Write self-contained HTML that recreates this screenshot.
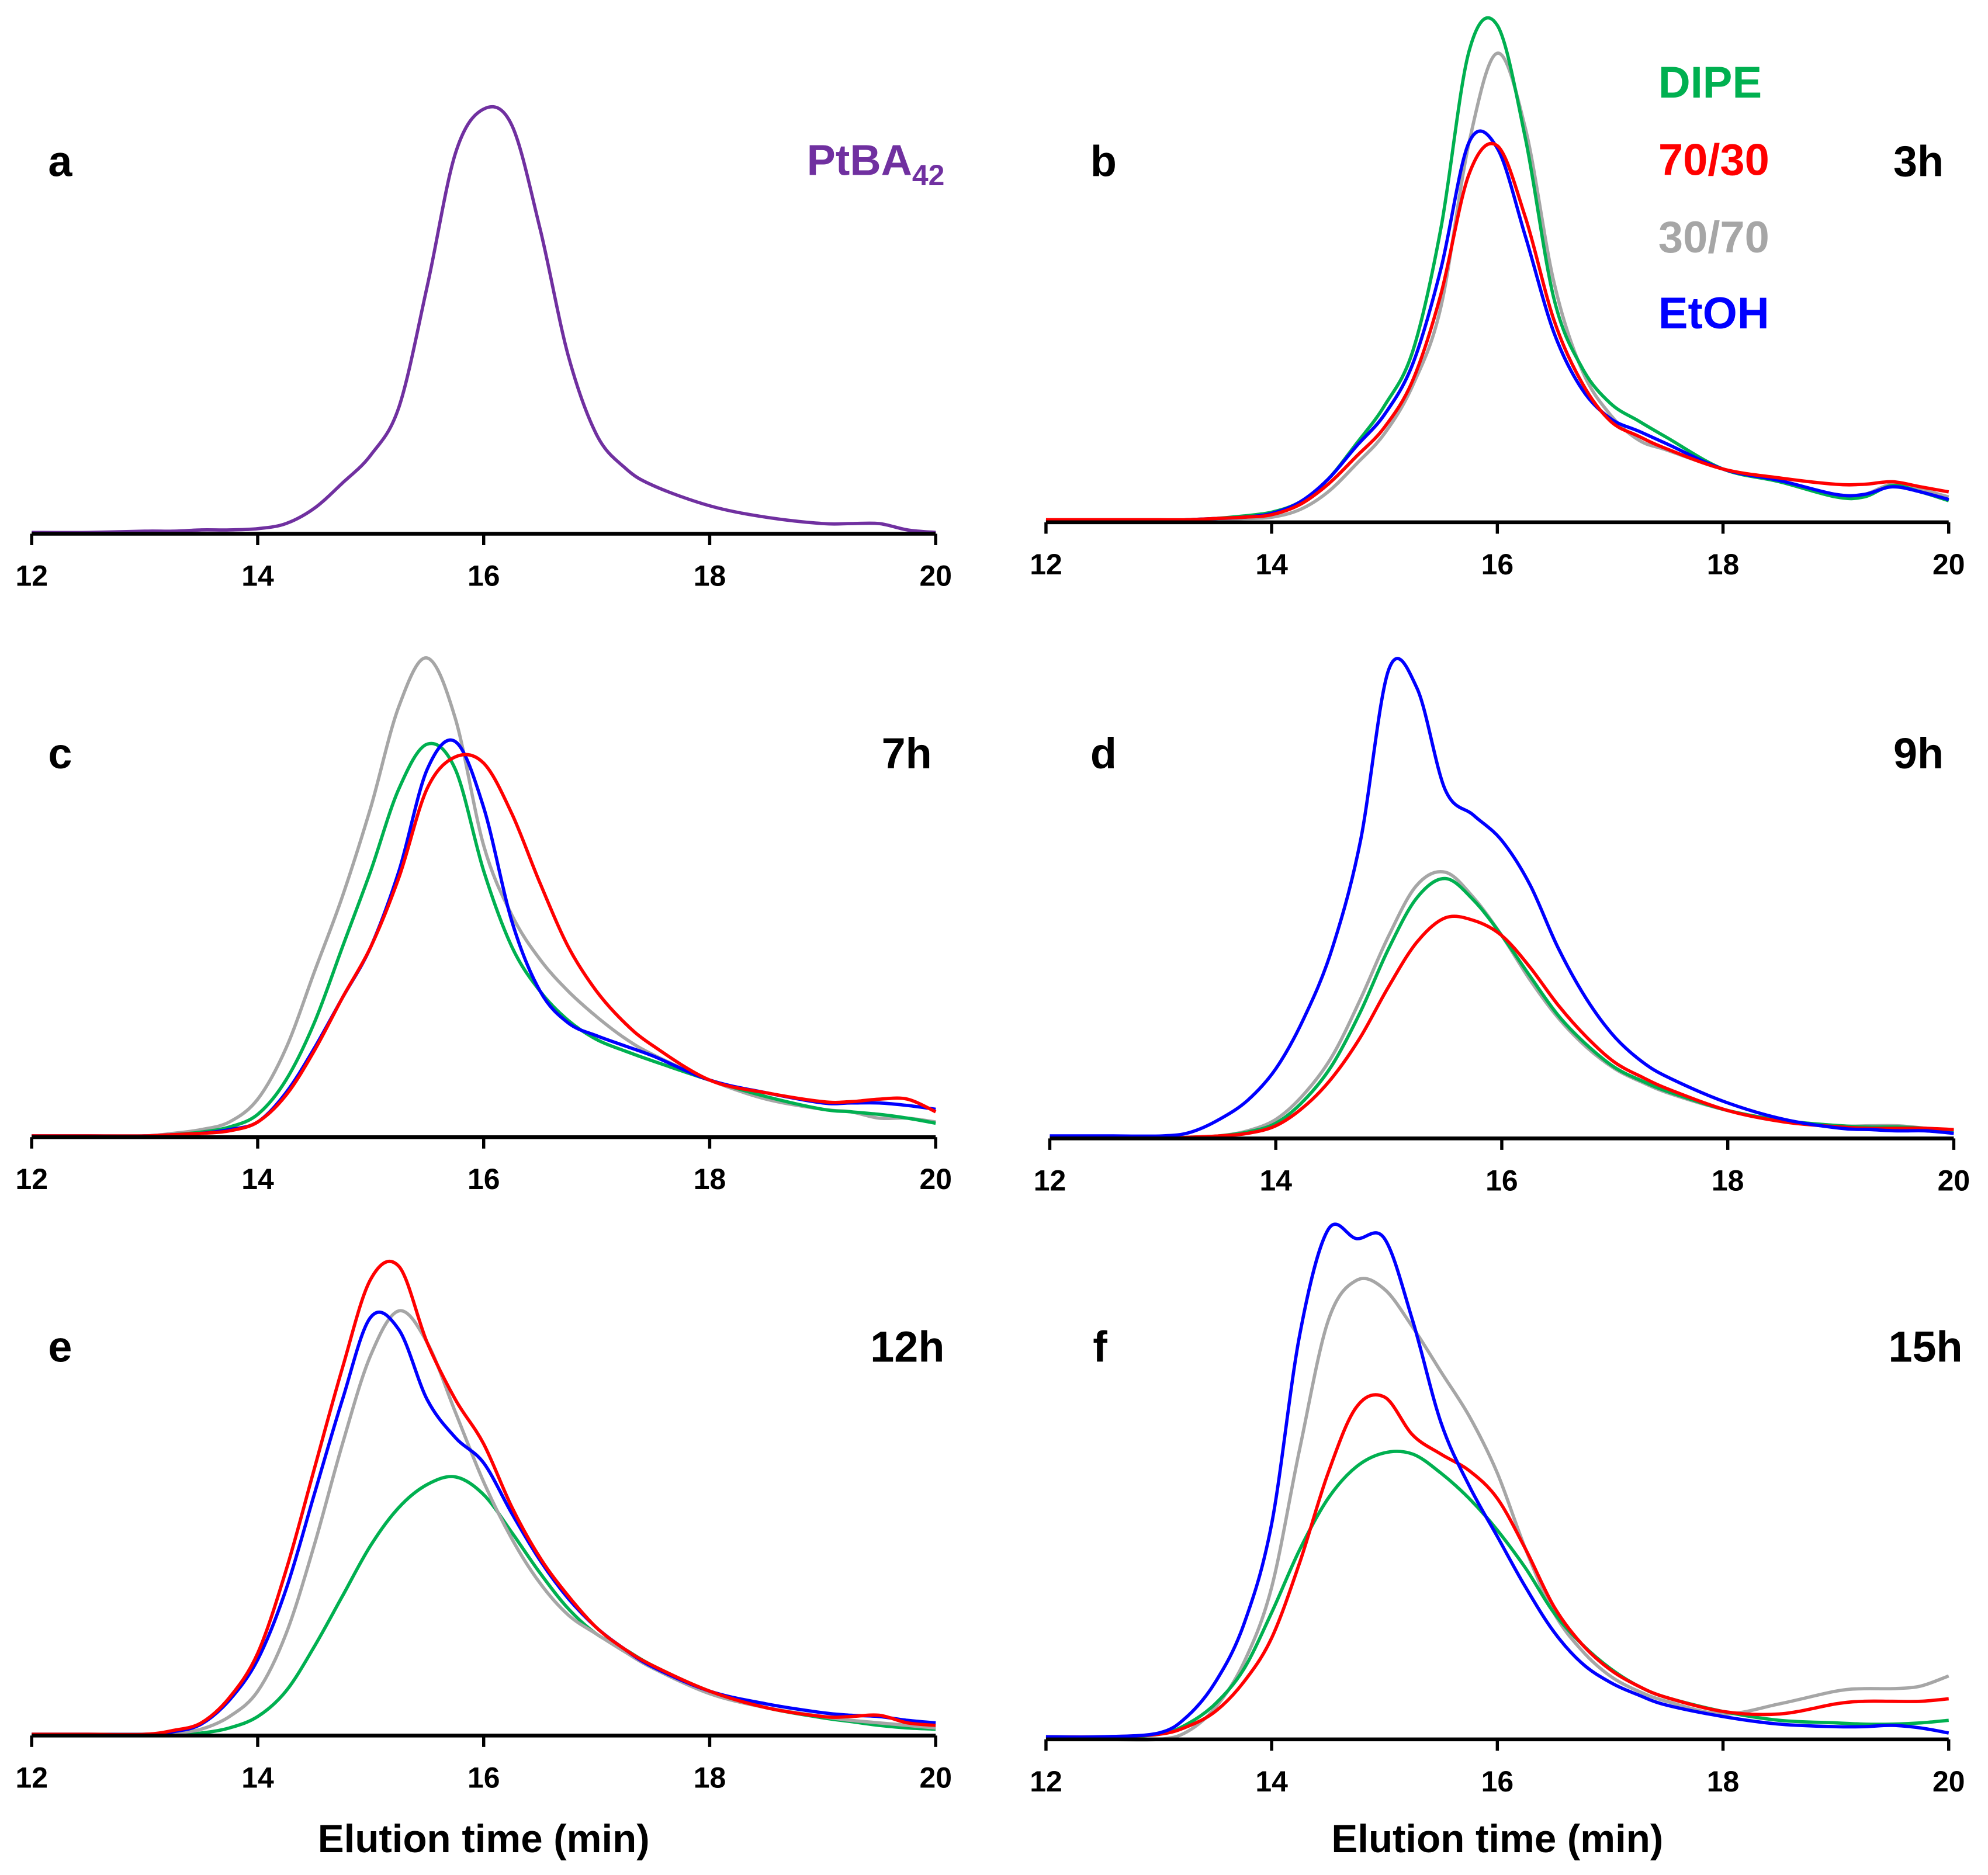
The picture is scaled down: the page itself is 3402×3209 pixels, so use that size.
<!DOCTYPE html>
<html><head><meta charset="utf-8"><style>
html,body{margin:0;padding:0;background:#fff}
svg{display:block}
text{font-family:"Liberation Sans",Arial,sans-serif;font-weight:bold}
</style></head><body>
<svg id="fig" xmlns="http://www.w3.org/2000/svg" width="3402" height="3209" viewBox="0 0 1568 1479" preserveAspectRatio="none"></svg>
<script>
const times=[12,12.5,13,13.25,13.5,13.75,14,14.25,14.5,14.75,15,15.25,15.5,15.75,16,16.25,16.5,16.75,17,17.25,17.5,18,18.5,19,19.25,19.5,19.75,20];
const tickLabels=[12,14,16,18,20];
const aPtBA=[1,1,2,2,3,3,4,8,20,40,62,100,195,300,335,322,240,140,78,52,38,22,13,8,8,8,3,1];
const bGreen=[1,1,1,2,3,5,8,16,34,62,92,135,232,372,392,302,177,122,94,80,67,42,32,20,20,29,24,17];
const bRed=[2,2,2,2,3,4,6,14,30,52,75,112,180,275,297,240,160,110,80,68,58,42,35,30,30,32,28,24];
const bBlue=[1,1,1,2,3,4,7,16,34,60,85,125,200,300,295,225,150,105,82,72,62,42,33,22,22,28,24,18];
const bGray=[1,1,1,1,2,3,4,10,24,46,70,108,170,300,370,310,190,120,85,65,57,42,32,22,22,30,26,20];
const cGray=[1,1,1,3,6,12,30,70,130,190,260,340,378,330,230,175,140,115,95,78,65,45,30,22,20,15,15,12];
const cGreen=[1,1,1,2,4,8,18,45,90,150,210,275,310,290,210,150,115,92,77,68,60,45,32,22,20,18,15,11];
const cBlue=[1,1,1,2,3,6,12,35,70,110,150,210,290,312,260,170,115,90,80,72,64,45,35,27,27,27,25,22];
const cRed=[1,1,1,2,3,5,12,33,68,110,150,205,275,300,295,255,200,150,115,90,72,45,35,28,28,30,30,20];
const dBlue=[2,2,2,5,15,30,55,95,150,235,370,355,275,255,235,200,150,110,80,60,47,28,15,8,7,6,6,4];
const dGray=[1,1,1,1,2,6,15,35,65,110,160,200,210,190,160,125,95,72,55,44,35,22,14,10,10,10,8,6];
const dGreen=[0,0,0,1,2,5,12,30,58,100,150,190,205,188,160,128,97,74,56,45,36,22,14,10,9,9,8,6];
const dRed=[0,0,0,1,2,4,10,25,48,80,120,155,174,172,160,135,105,80,60,48,38,22,13,9,8,8,8,7];
const eRed=[1,1,1,4,10,30,65,130,210,290,360,370,310,265,230,180,140,110,85,68,55,35,22,15,15,16,10,8];
const eBlue=[1,1,1,3,9,28,60,115,190,265,330,320,265,235,215,175,138,108,85,68,54,35,25,18,16,15,12,10];
const eGray=[1,1,1,2,5,15,35,80,150,230,300,335,310,255,200,155,120,95,80,66,53,33,22,15,12,10,8,6];
const eGreen=[1,1,1,1,2,6,15,35,70,110,150,180,198,204,190,160,128,100,80,68,55,35,22,14,11,8,6,5];
const fBlue=[2,2,5,18,45,90,170,320,402,395,395,330,250,200,160,120,85,60,45,35,27,18,12,10,10,11,9,5];
const fGray=[0,0,0,6,25,60,120,230,330,362,355,325,290,255,210,150,100,70,50,38,30,20,28,38,40,40,42,50];
const fRed=[2,2,4,10,22,45,80,140,210,262,270,240,225,212,190,150,105,75,55,42,33,22,20,28,30,30,30,32];
const fGreen=[2,2,4,12,28,55,100,150,190,215,226,225,210,190,165,135,100,75,56,42,33,22,15,13,12,12,13,15];

const C={green:'#00B050',red:'#FF0000',gray:'#A6A6A6',blue:'#0000FF',purple:'#7030A0'};
const svg=document.getElementById('fig');
const NS='http://www.w3.org/2000/svg';
function mk(tag,attrs,parent){const e=document.createElementNS(NS,tag);for(const k in attrs)e.setAttribute(k,attrs[k]);(parent||svg).appendChild(e);return e;}
function txt(x,y,s,size,fill,anchor,parent){const t=mk('text',{x:x,y:y,'font-size':size,fill:fill,'text-anchor':anchor||'start'},parent);t.textContent=s;return t;}

const panels=[
 {id:'a',x0:25,x1:738,base:421,lab:[38,139],tag:null,series:[['ptba42',aPtBA,C.purple]],title:false},
 {id:'b',x0:825,x1:1537,base:412,lab:[860,139],tag:['3h',1533,139],series:[['30-70',bGray,C.gray],['dipe',bGreen,C.green],['etoh',bBlue,C.blue],['70-30',bRed,C.red]],title:false},
 {id:'c',x0:25,x1:738,base:897,lab:[38,606],tag:['7h',735,606],series:[['30-70',cGray,C.gray],['dipe',cGreen,C.green],['etoh',cBlue,C.blue],['70-30',cRed,C.red]],title:false},
 {id:'d',x0:828,x1:1541,base:898,lab:[860,606],tag:['9h',1533,606],series:[['30-70',dGray,C.gray],['dipe',dGreen,C.green],['70-30',dRed,C.red],['etoh',dBlue,C.blue]],title:false},
 {id:'e',x0:25,x1:738,base:1369,lab:[38,1074],tag:['12h',745,1074],series:[['dipe',eGreen,C.green],['30-70',eGray,C.gray],['etoh',eBlue,C.blue],['70-30',eRed,C.red]],title:true},
 {id:'f',x0:825,x1:1537,base:1372,lab:[862,1074],tag:['15h',1548,1074],series:[['30-70',fGray,C.gray],['dipe',fGreen,C.green],['70-30',fRed,C.red],['etoh',fBlue,C.blue]],title:true}
];

function pathFor(xs,ys){
 let d='M'+xs[0]+','+ys[0];
 for(let i=0;i<xs.length-1;i++){
  const p0=[xs[Math.max(0,i-1)],ys[Math.max(0,i-1)]],p1=[xs[i],ys[i]],p2=[xs[i+1],ys[i+1]],p3=[xs[Math.min(xs.length-1,i+2)],ys[Math.min(xs.length-1,i+2)]];
  const c1=[p1[0]+(p2[0]-p0[0])/6,p1[1]+(p2[1]-p0[1])/6],c2=[p2[0]-(p3[0]-p1[0])/6,p2[1]-(p3[1]-p1[1])/6];
  d+='C'+c1[0].toFixed(1)+','+c1[1].toFixed(1)+' '+c2[0].toFixed(1)+','+c2[1].toFixed(1)+' '+p2[0].toFixed(1)+','+p2[1].toFixed(1);
 }
 return d;
}

panels.forEach(p=>{
 const g=mk('g',{});
 
 
 const xs=t=>p.x0+(t-12)/8*(p.x1-p.x0);
 const ys=v=>p.base-v;
 p.series.forEach(s=>{
  const path=mk('path',{d:pathFor(times.map(xs),s[1].map(ys)),fill:'none',stroke:s[2],'stroke-width':2.6,'stroke-linejoin':'round'},g);
  
  
 });
 const ax=mk('line',{x1:p.x0,x2:p.x1,y1:p.base,y2:p.base,stroke:'#000','stroke-width':3},g);
 
 
 tickLabels.forEach(t=>{
  const tk=mk('line',{x1:xs(t),x2:xs(t),y1:p.base,y2:p.base+9,stroke:'#000','stroke-width':2.5},g);
  
  
  const tl=txt(xs(t),p.base+41,String(t),23,'#000','middle',g);
  
  
 });
 const pl=txt(p.lab[0],p.lab[1],p.id,34,'#000','start',g);
 
 
 if(p.tag){const tg=txt(p.tag[1],p.tag[2],p.tag[0],34,'#000','end',g);
  
  }
 if(p.title){const tt=txt((p.x0+p.x1)/2,1461,'Elution time (min)',31,'#000','middle',g);
  
  }
});
</script>
<script>
(function(){
 const s=document.getElementById('fig');
 const NS='http://www.w3.org/2000/svg';
 const t=document.createElementNS(NS,'text');
 t.setAttribute('x',745);t.setAttribute('y',138);t.setAttribute('font-size',34);t.setAttribute('fill','#7030A0');t.setAttribute('text-anchor','end');
 t.innerHTML='PtBA<tspan font-size="23" dy="8">42</tspan>';
 
 
 s.appendChild(t);
 const leg=[['DIPE','#00B050',77],['70/30','#FF0000',138],['30/70','#A6A6A6',199],['EtOH','#0000FF',259]];
 leg.forEach(l=>{
  const e=document.createElementNS(NS,'text');
  e.setAttribute('x',1308);e.setAttribute('y',l[2]);e.setAttribute('font-size',35);e.setAttribute('fill',l[1]);
  e.textContent=l[0];
  
  
  s.appendChild(e);
 });
})();
</script>
</body></html>
